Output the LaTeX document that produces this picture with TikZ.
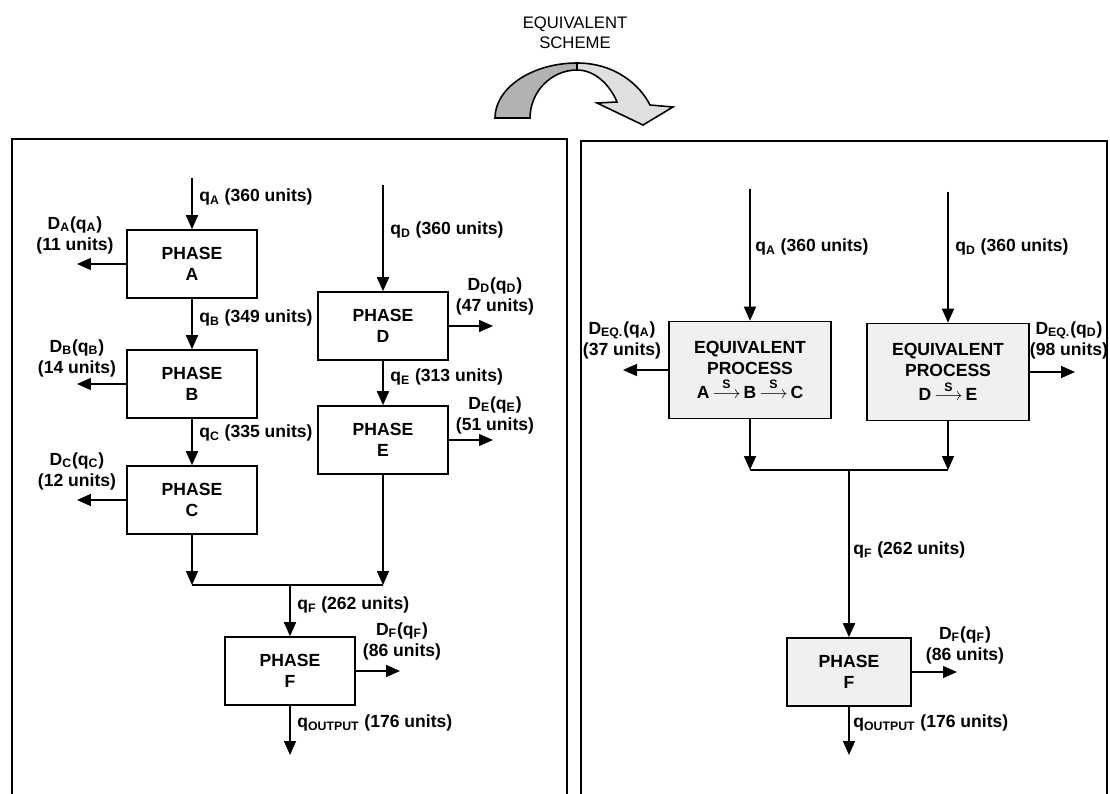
\documentclass[tikz,border=0pt]{standalone}
\usepackage{amsmath}
\usepackage{fontspec}
\setmainfont{Liberation Sans}
\usetikzlibrary{arrows.meta}
\newcommand{\sbs}[1]{\textsubscript{#1}}
\newcommand{\sarrow}{\,$\overset{\text{S}}{\longrightarrow}$\,}

\begin{document}
\begin{tikzpicture}[x=0.02cm,y=-0.02cm,
    font=\fontsize{10}{12}\selectfont\bfseries,
    phase/.style={draw,line width=0.9pt,minimum width=2.6cm,minimum height=1.36cm,
      align=center,inner sep=0pt},
    eqbox/.style={phase,fill=gray!12,minimum width=3.24cm,minimum height=1.94cm},
    flowline/.style={line width=0.9pt,-{Triangle[length=0.28cm,width=0.24cm]}},
    lbl/.style={anchor=west,inner sep=0pt},
    loss/.style={align=center,inner sep=0pt}]
  \useasboundingbox (0,0) rectangle (1110,794);

  % the two panels
  \draw[line width=0.9pt] (12,794) -- (12,139) -- (567,139) -- (567,794);
  \draw[line width=0.9pt] (581,794) -- (581,141) -- (1107,141) -- (1107,794);

  % curved arrow on top
  \node[font=\fontsize{9.5}{11.3}\selectfont,align=center] (title) at (575,33)
    {EQUIVALENT\\SCHEME};
  \filldraw[fill=gray!60,line width=0.9pt] (495,118) .. controls (495,88) and (532,63) .. (577,63)
    -- (577,70) .. controls (551,70) and (530,92) .. (530,118) -- cycle;
  \filldraw[fill=gray!25,line width=0.9pt] (577,63) .. controls (615,63) and (640,85) .. (650,105)
    -- (673,107) -- (643,125) -- (597,103) -- (617,102)
    .. controls (610,85) and (595,70) .. (577,70) -- cycle;

  % left panel
  \node[phase] (A) at (192,264) {PHASE\\A};
  \node[phase] (B) at (192,384) {PHASE\\B};
  \node[phase] (C) at (192,500) {PHASE\\C};
  \node[phase] (D) at (383,326) {PHASE\\D};
  \node[phase] (E) at (383,440) {PHASE\\E};
  \node[phase] (F) at (290,671) {PHASE\\F};

  \coordinate (inA) at (192,178);
  \coordinate (inD) at (383,185);
  \coordinate (joinC) at (192,585);
  \coordinate (joinE) at (383,585);
  \coordinate (joinF) at (290,585);
  \coordinate (outF) at (290,755);
  \coordinate (lossA) at (77,264);
  \coordinate (lossB) at (77,384);
  \coordinate (lossC) at (77,500);
  \coordinate (lossD) at (493,326);
  \coordinate (lossE) at (493,440);
  \coordinate (lossF) at (400,671);

  \draw[flowline] (inA) -- (A);
  \draw[flowline] (A) -- (B);
  \draw[flowline] (B) -- (C);
  \draw[flowline] (inD) -- (D);
  \draw[flowline] (D) -- (E);
  \draw[flowline] (C) -- (joinC);
  \draw[flowline] (E) -- (joinE);
  \draw[line width=0.9pt] (joinC) -- (joinE);
  \draw[flowline] (joinF) -- (F);
  \draw[flowline] (F) -- (outF);
  \foreach \n in {A,B,C,D,E,F}
    \draw[flowline] (\n) -- (loss\n);

  \node[lbl] (qA) at (199,197) {q\sbs{A} (360 units)};
  \node[lbl] (qB) at (199,318) {q\sbs{B} (349 units)};
  \node[lbl] (qC) at (199,433) {q\sbs{C} (335 units)};
  \node[lbl] (qD) at (390,230) {q\sbs{D} (360 units)};
  \node[lbl] (qE) at (390,377) {q\sbs{E} (313 units)};
  \node[lbl] (qF) at (297,605) {q\sbs{F} (262 units)};
  \node[lbl] (qout) at (297,723) {q\sbs{OUTPUT} (176 units)};
  \node[loss] (dA) at (75,235) {D\sbs{A}(q\sbs{A})\\(11 units)};
  \node[loss] (dB) at (77,358) {D\sbs{B}(q\sbs{B})\\(14 units)};
  \node[loss] (dC) at (77,471) {D\sbs{C}(q\sbs{C})\\(12 units)};
  \node[loss] (dD) at (495,296) {D\sbs{D}(q\sbs{D})\\(47 units)};
  \node[loss] (dE) at (495,415) {D\sbs{E}(q\sbs{E})\\(51 units)};
  \node[loss] (dF) at (402,641) {D\sbs{F}(q\sbs{F})\\(86 units)};

  % right panel
  \node[eqbox] (EA) at (750,370)
    {EQUIVALENT\\PROCESS\\[2pt]A\sarrow B\sarrow C};
  \node[eqbox] (ED) at (948,372)
    {EQUIVALENT\\PROCESS\\[2pt]D\sarrow E};
  \node[phase,fill=gray!12,minimum width=2.48cm] (RF) at (849,672) {PHASE\\F};

  \coordinate (inEA) at (750,189);
  \coordinate (inED) at (948,192);
  \coordinate (joinEA) at (750,470);
  \coordinate (joinED) at (948,470);
  \coordinate (joinRF) at (849,470);
  \coordinate (outRF) at (849,755);
  \coordinate (lossEA) at (623,370);
  \coordinate (lossED) at (1075,372);
  \coordinate (lossRF) at (957,672);

  \draw[flowline] (inEA) -- (EA);
  \draw[flowline] (inED) -- (ED);
  \draw[flowline] (EA) -- (joinEA);
  \draw[flowline] (ED) -- (joinED);
  \draw[line width=0.9pt] (joinEA) -- (joinED);
  \draw[flowline] (joinRF) -- (RF);
  \draw[flowline] (RF) -- (outRF);
  \foreach \n in {EA,ED,RF}
    \draw[flowline] (\n) -- (loss\n);

  \node[lbl] (qEA) at (755,247) {q\sbs{A} (360 units)};
  \node[lbl] (qED) at (955,247) {q\sbs{D} (360 units)};
  \node[lbl] (qRF) at (853,550) {q\sbs{F} (262 units)};
  \node[lbl] (qRout) at (853,723) {q\sbs{OUTPUT} (176 units)};
  \node[loss] (dEA) at (622,340) {D\sbs{EQ.}(q\sbs{A})\\(37 units)};
  \node[loss] (dED) at (1069,340) {D\sbs{EQ.}(q\sbs{D})\\(98 units)};
  \node[loss] (dRF) at (965,645) {D\sbs{F}(q\sbs{F})\\(86 units)};
\end{tikzpicture}
\end{document}
